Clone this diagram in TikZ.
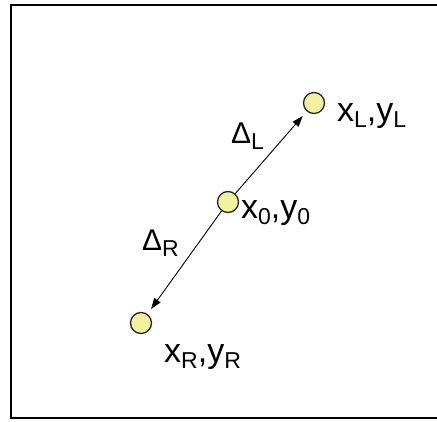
\documentclass[tikz,border=0pt]{standalone}
\usepackage{fontspec}
\setmainfont{Liberation Sans}
\usetikzlibrary{arrows.meta,positioning}
\definecolor{dotyellow}{RGB}{242,242,160}
\newcommand{\sublbl}[1]{\raisebox{-6pt}{\fontsize{23}{23}\selectfont #1}}
\tikzset{
    dot/.style={
        circle,
        draw=black!85,
        line width=1.3pt,
        fill=dotyellow,
        minimum size=21pt,
        inner sep=0pt
    },
    % coordinate labels
    ptlabel/.style={
        anchor=base west,
        inner sep=0pt,
        font=\fontsize{34}{34}\selectfont
    },
    steplabel/.style={
        anchor=base west,
        inner sep=0pt,
        font=\fontsize{30}{30}\selectfont
    },
    steparrow/.style={
        line width=0.9pt,
        black,
        -{Triangle[length=11pt, width=7.5pt]},
        shorten >=6pt
    }
}
\begin{document}
\begin{tikzpicture}[x=1pt,y=-1pt]
\useasboundingbox (0,0) rectangle (437,421);

% frame
\draw[line width=2pt] (437,5) -- (11,5) -- (11,418) -- (437,418);

% points
\node[dot] (pL) at (314,103) {};
\node[dot] (p0) at (228,202) {};
\node[dot] (pR) at (141,323) {};

% steps
\draw[steparrow] (p0) -- (pL);
\draw[steparrow] (p0) -- (pR);

% labels
\node[ptlabel] (tL) at (337,121) {x\sublbl{L},y\sublbl{L}};
\node[ptlabel] (t0) at (241,218) {x\sublbl{0},y\sublbl{0}};
\node[ptlabel] (tR) at (164,362) {x\sublbl{R},y\sublbl{R}};
\node[steplabel] (dL) at (231,143) {Δ\sublbl{L}};
\node[steplabel] (dR) at (142,250) {Δ\sublbl{R}};
\end{tikzpicture}
\end{document}
